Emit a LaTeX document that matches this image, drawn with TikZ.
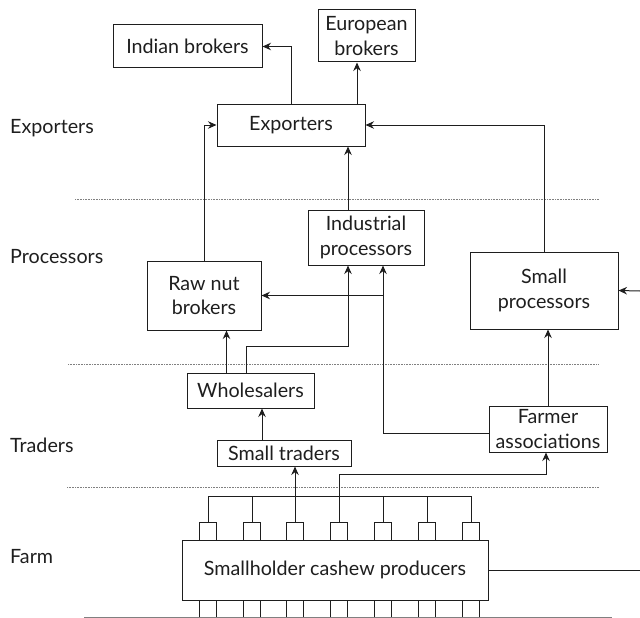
\documentclass[tikz,border=0pt]{standalone}
\usepackage{fontspec}
\setmainfont{Lato}
\usetikzlibrary{arrows.meta}
\definecolor{ink}{HTML}{1E1E1E}
\definecolor{rulegray}{HTML}{808080}
\begin{document}
\begin{tikzpicture}[x=1pt,y=-1pt,
  txt/.style={font=\fontsize{19.7}{24.5}\selectfont, text=ink},
  box/.style={txt, draw=ink, line width=1pt, inner sep=0pt, align=center},
  sz/.style 2 args={minimum width=#1pt, minimum height=#2pt},
  stub/.style={draw=ink, line width=1pt, inner sep=0pt, minimum width=17pt, minimum height=18pt},
  link/.style={draw=ink, line width=1pt},
  arr/.style={link, -{Stealth[length=8.5pt,width=7.5pt]}},
  tier/.style={draw=rulegray, line width=0.7pt, dash pattern=on 0.7pt off 0.9pt},
  rowlabel/.style={txt, anchor=west, inner sep=0pt}]
\useasboundingbox (0,0) rectangle (640,618);

% tier separators
\draw[tier] (75,199) -- (599,199);
\draw[tier] (68,364) -- (599,364);
\draw[tier] (67,487) -- (599,487);
\draw[draw=rulegray, line width=1pt] (84,617) -- (612,617);

% tier labels
\node[rowlabel] (lexp)  at (10,128) {Exporters};
\node[rowlabel] (lproc) at (10,257) {Processors};
\node[rowlabel] (ltrad) at (10,445) {Traders};
\node[rowlabel] (lfarm) at (10,557) {Farm};

% actors
\node[box, sz={149}{43}] (indian) at (187.5,46.5) {Indian brokers};
\node[box, sz={97}{52}]  (euro)   at (366.5,36)   {European\\brokers};
\node[box, sz={148}{42}] (exp)    at (291,125)    {Exporters};
\node[box, sz={114}{69}] (rawnut) at (204,295.5)  {Raw nut\\brokers};
\node[box, sz={116}{55}] (indproc) at (366,237.5) {Industrial\\processors};
\node[box, sz={148}{77}] (smallproc) at (544,290.5) {Small\\processors};
\node[box, sz={127}{35}] (wholes) at (250.5,390.5) {Wholesalers};
\node[box, sz={134}{26}] (smalltr) at (284,453)   {Small traders};
\node[box, sz={118}{46}] (farmer) at (548,429)    {Farmer\\associations};
\node[box, sz={306}{60}] (prod)   at (335,570)    {Smallholder cashew producers};

% individual farms above and below the producers box
\foreach \i/\x in {1/208,2/252,3/295,4/339,5/383,6/427,7/471}{
  \node[stub] (p\i) at (\x,531) {};
  \draw[link] (\x-8.5,600) -- (\x-8.5,617) (\x+8.5,600) -- (\x+8.5,617);
}

% free ends and junction rows
\coordinate (bus) at (0,496);
\coordinate (frow) at (0,474);
\coordinate (outA) at (640,291);
\coordinate (outB) at (640,570);
\coordinate (indL) at ([xshift=-18pt]indproc.south);
\coordinate (indR) at ([xshift=17pt]indproc.south);

% collection bus from the farms
\draw[link] (p1.north) |- (p7.north |- bus) -- (p7.north);
\foreach \i in {2,5,6}{ \draw[link] (p\i.north) -- (p\i.north |- bus); }
\draw[arr] (p3.north) -- (p3.north |- smalltr.south);
\draw[arr] (p4.north) -- (p4.north |- frow) -| ([xshift=-2pt]farmer.south);
\draw[link] (prod.east) -- (outB);

% traders
\draw[arr] ([xshift=-22pt]smalltr.north) -- ([xshift=-22pt]smalltr.north |- wholes.south);
\draw[arr] ([xshift=-24pt]wholes.north) -- ([xshift=-24pt]wholes.north |- rawnut.south);
\draw[arr] ([xshift=-4pt]wholes.north) -- ++(0,-26) -| (indL);
\draw[arr] ([yshift=-4pt]farmer.west) -| (indR);
\draw[arr] (rawnut.east -| indR) -- (rawnut.east);
\draw[arr] (farmer.north) -- (farmer.north |- smallproc.south);
\draw[arr] (outA) -- (smallproc.east);

% processors to exporters
\draw[arr] (rawnut.north) |- (exp.west);
\draw[arr] (indL |- indproc.north) -- (indL |- exp.south);
\draw[arr] (smallproc.north) |- (exp.east);

% exporters to brokers
\draw[arr] (exp.north) |- (indian.east);
\draw[arr] ([xshift=66pt]exp.north) -- ([xshift=66pt]exp.north |- euro.south);
\end{tikzpicture}
\end{document}
